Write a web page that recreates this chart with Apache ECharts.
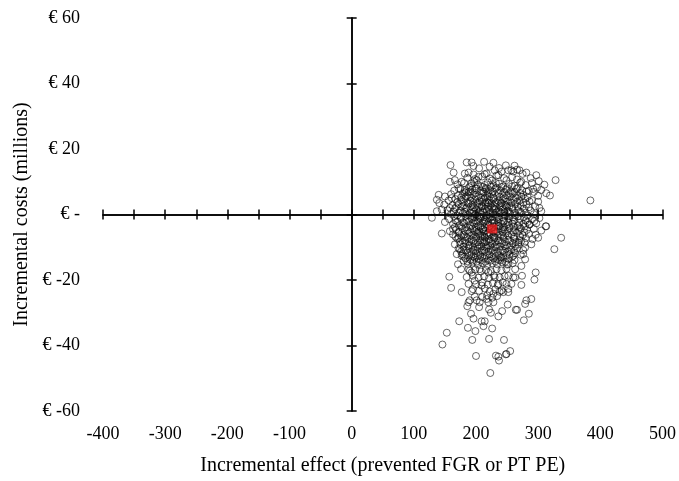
<!DOCTYPE html>
<html>
<head>
<meta charset="utf-8">
<script src="https://cdn.jsdelivr.net/npm/echarts@6/dist/echarts.min.js"></script>
<style>html,body{margin:0;padding:0;background:#fff;}#c{width:679px;height:481px;}</style>
</head>
<body>
<div id="c"></div>
<script>
// x tick labels (incremental effect) and y tick values (incremental costs, millions €)
const xTicks = [-400, -300, -200, -100, 0, 100, 200, 300, 400, 500];
const yTicks = [-60, -40, -20, 0, 20, 40, 60];

// Outer / scattered bootstrap replicates [effect, cost]
const outerPoints = [
 [159,15.1],[185,15.9],[193,15.9],[213,16.1],[164,12.8],[182,12.5],[188,12.8],[196,12.2],[204,11.5],[217,12.5],
 [230,13.5],[241,13.1],[252,13.5],[158,10],[166,10.5],[177,10],[140,6],[137,4.5],[141,3.5],[150,5.5],
 [161,5],[149,3],[158,2],[137,1],[145,1.5],[129,-1],[150,-2.3],[172,8],[182,7.5],[193,9.5],
 [201,10.5],[214,9],[222,11],[236,12],[249,10.5],[260,13.1],[257,13.5],[270,13.5],[297,12],[328,10.5],
 [305,7.5],[313,6.5],[319,5.8],[300,5.7],[292,7.8],[384,4.3],[302,2],[286,4],[281,7],[273,10],
 [294,-2],[313,-3.6],[286,-3],[312,-3.6],[337,-7.1],[326,-10.6],[300,-7.1],[289,-9.1],[279,-10.1],[276,-12.1],
 [279,-13.7],[273,-15.7],[263,-16.7],[296,-17.7],[294,-19.9],[274,-18.7],[273,-21.5],[260,-19.2],[257,-21.2],[249,-21.2],
 [252,-22.7],[244,-23.7],[289,-25.8],[281,-26.2],[252,-15.2],[241,-13.2],[260,-12.6],[268,-8.6],
 [251,-27.5],[242,-29.5],[266,-29.1],[279,-27.3],[285,-30.3],[277,-32.3],[245,-38.3],[255,-41.7],[249,-42.6],[237,-44.6],[236,-43.4],
 [188,-26.8],[186,-28],[206,-26.8],[205,-28.3],[220,-26.8],[221,-29],[228,-26.8],[224,-30],[192,-30.3],[196,-31.8],
 [173,-32.6],[209,-32.6],[214,-32.6],[212,-34.1],[187,-34.6],[199,-35.6],[226,-34.8],[236,-31.1],[264,-29.1],
 [153,-36.1],[146,-39.7],[194,-38.3],[221,-38],[200,-43.2],[232,-43.1],[248,-42.7],[223,-48.4],
 [145,-5.8],[158,-5.1],[163,-4.4],[166,-9.1],[172,-7.1],[174,-10.6],[169,-12.1],[177,-12.6],[180,-14.1],[171,-15.2],
 [176,-16.7],[188,-16.7],[157,-19],[160,-22.4],[177,-23.7],[193,-23.4],[188,-21.2],[198,-20.2],[209,-21.7],[217,-25.8],
 [228,-24.2],[241,-23.2],[252,-23.7],[236,-21.2],[252,-18.7],[263,-19.2],[201,-26.2],[190,-26.2],[193,-17.7],[220,-17.7],
 [230,-19.2],[206,-16.7],
 [222,14.6],[237,14.2],[248,15.0],[228,15.8],[205,14.1],[196,14.8],[262,14.9],[275,12.4],[288,11.1],[281,12.8],
 [266,13.7],[290,9.6],[301,10.2],[298,8.2],[310,9.1]
];

// Dense core of the cloud, first layer [effect, cost]
const corePoints = [
 [186,11.2],[198,10.8],[210,11.6],[226,10.4],[233,11.9],[245,11.1],[258,11.4],[266,10.7],[214,12.3],
 [170,9.2],[181,9.6],[192,8.7],[203,9.1],[211,8.4],[219,9.8],[228,8.9],[237,9.4],[244,8.6],[253,9.3],[262,8.8],[271,9.7],[280,9.0],[197,9.9],[232,9.6],
 [165,7.3],[175,7.8],[184,7.1],[194,7.6],[201,7.9],[207,7.2],[215,7.7],[223,7.4],[231,7.9],[239,7.3],[248,7.6],[256,7.0],[265,7.8],[274,7.4],[285,7.2],[293,6.9],[188,6.8],[220,6.9],
 [160,6.2],[171,5.8],[179,6.3],[187,5.9],[196,6.1],[204,5.7],[211,6.4],[218,5.9],[226,6.2],[234,5.6],[242,6.1],[250,5.8],[259,6.3],[267,5.7],[276,6.0],[283,5.4],[208,5.1],[229,5.0],
 [156,4.3],[167,4.7],[176,4.4],[183,4.9],[191,4.2],[199,4.6],[206,4.1],[213,4.8],[221,4.3],[228,4.7],[236,4.2],[244,4.6],[252,4.1],[261,4.5],[270,4.2],[279,4.8],[290,4.4],[300,3.9],[215,3.6],[240,3.5],
 [162,2.8],[172,3.2],[180,2.7],[188,3.3],[195,2.9],[202,3.1],[209,2.6],[216,3.2],[223,2.8],[231,3.3],[238,2.7],[246,3.0],[254,2.6],[263,3.2],[272,2.8],[281,3.1],[295,2.5],[197,2.2],[226,2.1],
 [154,1.3],[166,1.7],[175,1.2],[184,1.8],[192,1.4],[200,1.6],[207,1.1],[214,1.7],[221,1.3],[229,1.8],[236,1.2],[243,1.6],[251,1.1],[259,1.7],[268,1.3],[277,1.8],[288,1.2],[305,1.0],[212,0.6],[233,0.7],
 [160,0.2],[170,-0.3],[179,0.4],[187,-0.2],[194,0.3],[202,-0.4],[209,0.1],[217,-0.3],[224,0.4],[231,-0.1],[239,0.3],[247,-0.4],[255,0.2],[264,-0.2],[273,0.4],[283,-0.3],[293,0.1],[198,-0.9],[219,-1.0],[242,-0.8],
 [157,-1.4],[167,-1.8],[176,-1.2],[185,-1.7],[193,-1.3],[200,-1.9],[207,-1.2],[214,-1.6],[222,-1.1],[229,-1.8],[237,-1.4],[245,-1.9],[253,-1.2],[262,-1.7],[271,-1.3],[280,-1.8],[290,-1.5],[302,-1.1],
 [163,-2.9],[173,-3.3],[181,-2.7],[190,-3.2],[197,-2.8],[204,-3.4],[211,-2.6],[218,-3.1],[226,-2.7],[233,-3.3],[241,-2.9],[249,-3.2],[258,-2.8],[267,-3.4],[276,-2.9],[286,-3.1],[297,-2.7],[213,-2.2],[236,-2.3],
 [168,-4.6],[178,-4.2],[186,-4.8],[194,-4.3],[201,-4.7],[208,-4.1],[215,-4.9],[222,-4.4],[230,-4.8],[238,-4.2],[246,-4.6],[254,-4.1],[263,-4.8],[272,-4.3],[282,-4.7],[293,-4.4],[305,-4.9],
 [163,-6.1],[172,-5.7],[180,-6.3],[188,-5.8],[196,-6.2],[203,-5.6],[210,-6.4],[217,-5.9],[224,-6.2],[232,-5.7],[240,-6.3],[248,-5.8],[257,-6.1],[266,-5.6],[275,-6.3],[285,-5.9],[296,-6.2],[205,-5.1],[228,-5.2],
 [170,-7.4],[178,-7.9],[186,-7.2],[193,-7.7],[200,-7.3],[207,-7.8],[214,-7.1],[221,-7.6],[229,-7.3],[236,-7.9],[244,-7.2],[252,-7.7],[261,-7.4],[270,-7.8],[280,-7.2],[291,-7.5],
 [175,-9.1],[183,-8.7],[190,-9.3],[198,-8.8],[205,-9.2],[212,-8.6],[219,-9.4],[226,-8.9],[234,-9.2],[242,-8.7],[250,-9.3],[259,-8.8],[268,-9.1],[278,-8.6],[202,-9.9],[230,-9.8],
 [172,-10.4],[180,-10.8],[188,-10.2],[196,-10.7],[203,-10.3],[210,-10.9],[217,-10.2],[224,-10.6],[232,-10.1],[240,-10.8],[248,-10.4],[257,-10.7],[266,-10.3],[276,-10.9],
 [178,-12.1],[186,-11.7],[193,-12.3],[200,-11.8],[207,-12.4],[214,-11.6],[222,-12.2],[229,-11.9],[237,-12.4],[245,-11.7],[254,-12.2],[263,-11.8],[272,-12.3],
 [183,-13.4],[191,-13.8],[198,-13.2],[205,-13.7],[213,-13.3],[220,-13.9],[228,-13.4],[236,-13.8],[244,-13.2],[253,-13.6],[262,-13.9],
 [187,-15.1],[195,-14.7],[203,-15.3],[211,-14.8],[218,-15.4],[226,-14.9],[234,-15.2],[242,-14.6],[250,-15.3],[259,-14.9],
 [190,-17.2],[199,-16.8],[208,-17.4],[216,-16.9],[224,-17.3],[233,-16.7],[241,-17.1],[249,-16.6],
 [185,-19.1],[195,-18.7],[204,-19.3],[213,-18.9],[221,-19.4],[229,-18.6],[238,-19.2],[246,-18.8],
 [200,-21.3],[210,-20.8],[219,-21.4],[227,-20.9],[235,-21.6],[243,-20.7],
 [195,-22.8],[205,-23.3],[214,-22.6],[222,-23.5],[231,-22.9],[238,-23.6],
 [210,-25.2],[218,-24.7],[226,-25.4],[234,-24.9],[198,-25.1]
];

// Dense core of the cloud, second layer [effect, cost]
const corePoints2 = [
 [189,8.3],[199,8.0],[208,8.6],[216,8.1],[224,8.5],[233,8.2],[241,8.4],[250,8.0],[258,8.6],[267,8.1],
 [182,6.7],[191,7.0],[199,6.6],[212,6.9],[219,6.5],[227,7.0],[236,6.6],[245,6.9],[253,6.5],[262,6.8],[271,6.6],
 [176,5.2],[184,5.5],[192,5.1],[200,5.4],[215,5.2],[222,5.5],[238,5.3],[247,5.0],[255,5.4],[264,5.1],[273,5.4],
 [170,3.7],[179,3.9],[187,3.6],[195,3.8],[203,3.5],[210,3.9],[218,3.7],[225,3.4],[233,3.8],[241,3.5],[249,3.9],[257,3.6],[266,3.8],[276,3.6],
 [168,2.2],[177,2.4],[185,2.1],[192,2.5],[205,2.3],[219,2.4],[230,2.5],[242,2.2],[250,2.4],[258,2.1],[267,2.4],[285,2.2],
 [164,0.9],[173,0.6],[182,0.8],[190,0.5],[197,0.9],[204,0.6],[217,0.9],[227,0.6],[238,0.9],[246,0.7],[253,0.9],[262,0.5],[271,0.8],[280,0.6],
 [165,-0.6],[175,-0.8],[183,-0.5],[191,-0.7],[205,-0.6],[213,-0.8],[226,-0.6],[235,-0.7],[251,-0.6],[259,-0.9],[268,-0.5],[277,-0.8],
 [170,-2.2],[179,-2.4],[188,-2.1],[195,-2.5],[203,-2.2],[220,-2.4],[229,-2.5],[244,-2.1],[252,-2.4],[260,-2.2],[269,-2.5],[283,-2.3],
 [166,-3.8],[176,-3.6],[184,-3.9],[192,-3.5],[200,-3.8],[207,-3.6],[214,-3.9],[221,-3.5],[229,-3.8],[237,-3.6],[245,-3.9],[253,-3.5],[261,-3.7],[270,-3.9],[279,-3.6],
 [173,-5.3],[182,-5.0],[190,-5.4],[198,-5.1],[212,-5.3],[220,-5.5],[235,-5.2],[243,-5.4],[251,-5.0],[260,-5.3],[269,-5.1],[278,-5.4],
 [167,-6.8],[176,-6.6],[184,-6.9],[192,-6.5],[200,-6.8],[207,-6.6],[214,-6.9],[221,-6.5],[228,-6.8],[236,-6.6],[244,-6.9],[252,-6.5],[261,-6.8],[271,-6.6],
 [174,-8.3],[182,-8.0],[189,-8.4],[196,-8.1],[203,-8.5],[210,-8.0],[217,-8.3],[224,-8.1],[231,-8.4],[239,-8.0],[247,-8.3],[255,-8.1],[264,-8.4],[273,-8.0],
 [180,-9.8],[188,-9.6],[195,-9.9],[209,-9.7],[216,-9.9],[223,-9.6],[238,-9.8],[246,-9.6],[254,-9.9],[263,-9.7],
 [176,-11.3],[184,-11.0],[192,-11.4],[199,-11.1],[206,-11.4],[213,-11.0],[220,-11.3],[227,-11.1],[235,-11.4],[243,-11.0],[252,-11.3],[261,-11.1],
 [181,-12.9],[189,-12.6],[196,-12.9],[203,-12.7],[210,-13.0],[217,-12.6],[225,-12.9],[232,-12.7],[240,-13.0],[249,-12.6],[258,-12.9],
 [186,-14.3],[194,-14.1],[201,-14.4],[208,-14.0],[215,-14.4],[223,-14.1],[231,-14.3],[239,-14.0],[247,-14.4],
 [206,-1.0],[211,1.0],[216,-2.0],[221,0.0],[226,-1.5],[231,1.5],[236,-3.5],[241,0.5],[211,-4.5],[218,-6.2],
 [225,-4.0],[233,-1.0],[210,2.5],[220,3.5],[230,-7.0],[243,-4.5],[204,-6.0],[248,2.8],[199,0.0],[214,-8.5]
];

// Base-case (mean) point
const meanPoint = [[226, -4.4]];

const FONT = '"Liberation Serif", "DejaVu Serif", serif';
const chart = echarts.init(document.getElementById('c'), null, {renderer: 'canvas'});

function yFmt(v) { return v === 0 ? '€ -' : '€ ' + v; }

const lineStyle = {color: '#000', width: 1.5};
const lineAxisX = (inside) => ({
  type: 'value', min: xTicks[0], max: xTicks[xTicks.length - 1], interval: 50,
  axisLine: {show: true, onZero: true, onZeroAxisIndex: 0, lineStyle: lineStyle},
  axisTick: {show: true, inside: inside, length: 5, lineStyle: lineStyle},
  axisLabel: {show: false}, splitLine: {show: false}
});
const lineAxisY = (inside) => ({
  type: 'value', min: yTicks[0], max: yTicks[yTicks.length - 1], interval: 20,
  axisLine: {show: true, onZero: true, onZeroAxisIndex: 0, lineStyle: lineStyle},
  axisTick: {show: true, inside: inside, length: 5, lineStyle: lineStyle},
  axisLabel: {show: false}, splitLine: {show: false}
});

chart.setOption({
  animation: false,
  backgroundColor: '#fff',
  grid: {left: 103, right: 14, top: 18, bottom: 66},
  xAxis: [
    {
      type: 'value', position: 'bottom', min: xTicks[0], max: xTicks[xTicks.length - 1], interval: 100,
      axisLine: {show: false, onZero: false}, axisTick: {show: false}, splitLine: {show: false},
      axisLabel: {color: '#000', fontFamily: FONT, fontSize: 18, margin: 14},
      name: 'Incremental effect (prevented FGR or PT PE)', nameLocation: 'middle', nameGap: 45,
      nameTextStyle: {color: '#000', fontFamily: FONT, fontSize: 20}
    },
    lineAxisX(true),
    lineAxisX(false)
  ],
  yAxis: [
    {
      type: 'value', position: 'left', min: yTicks[0], max: yTicks[yTicks.length - 1], interval: 20,
      axisLine: {show: false, onZero: false}, axisTick: {show: false}, splitLine: {show: false},
      axisLabel: {color: '#000', fontFamily: FONT, fontSize: 18, margin: 23, formatter: yFmt},
      name: 'Incremental costs (millions)', nameLocation: 'middle', nameGap: 70,
      nameTextStyle: {color: '#000', fontFamily: FONT, fontSize: 20}
    },
    lineAxisY(true),
    lineAxisY(false)
  ],
  series: [
    {
      type: 'scatter', xAxisIndex: 0, yAxisIndex: 0, symbol: 'circle', symbolSize: 7,
      itemStyle: {color: 'rgba(0,0,0,0)', borderColor: 'rgba(10,10,10,0.85)', borderWidth: 0.9},
      data: corePoints.concat(corePoints2, outerPoints), z: 3
    },
    {
      type: 'scatter', xAxisIndex: 0, yAxisIndex: 0, symbol: 'rect', symbolSize: [10, 9],
      itemStyle: {color: '#ee1c1c'}, data: meanPoint, z: 5
    }
  ]
});
</script>
</body>
</html>
